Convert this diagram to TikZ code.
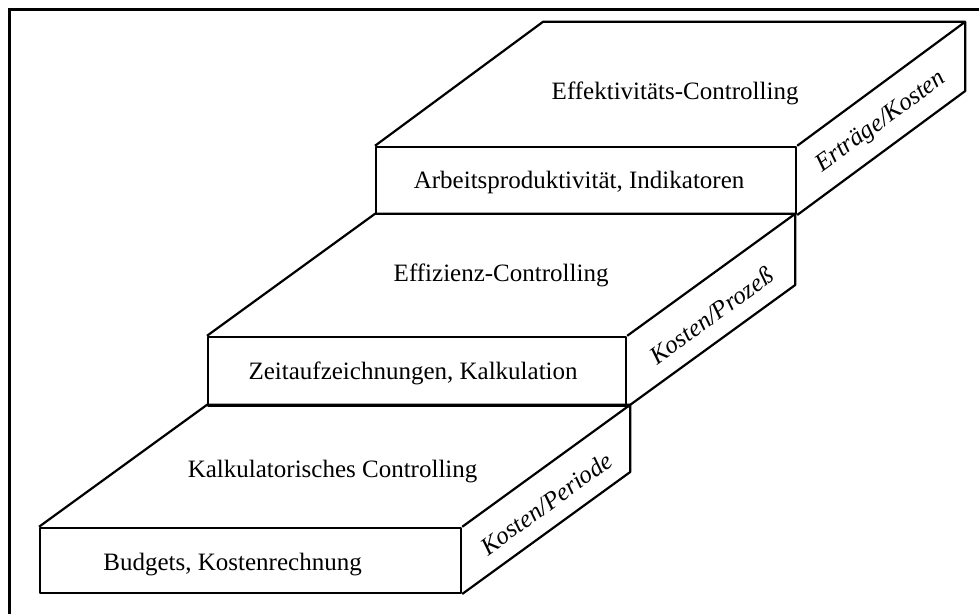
\documentclass[tikz,border=0pt]{standalone}
\usepackage{fontspec}
\setmainfont{Liberation Serif}
\usetikzlibrary{positioning,calc}

\begin{document}
\begin{tikzpicture}[
  x=1pt, y=1pt,
  font=\fontsize{25}{30}\selectfont,
  edge/.style={draw=black, line width=2.2pt, line join=round},
  front/.style={edge, anchor=south west, inner sep=0pt},
  toplbl/.style={inner sep=1pt},
  frontlbl/.style={inner sep=1pt},
  sidelbl/.style={font=\fontsize{25}{30}\selectfont\itshape, rotate=36, inner sep=1pt},
  frame/.style={draw=black, line width=3pt}
]
\useasboundingbox (0,0) rectangle (979,613);

% ============ FRAME ============
\draw[frame] (9,-5) -- (9,603) -- (990,603);

% ============ BOTTOM STEP: KALKULATORISCH ============
\node[front, minimum width=421pt, minimum height=65pt] (kalk) at (39,19) {};
\draw[edge] (kalk.north west) -- ++(168,122) -- ($(kalk.north east)+(168,122)$) -- (kalk.north east);
\draw[edge] (kalk.north east) ++(168,122) -- ($(kalk.south east)+(168,122)$) -- (kalk.south east);
\node[frontlbl] (kalkFront) at ($(kalk.center)+(-18,-4)$) {Budgets, Kostenrechnung};
\node[toplbl]   (kalkTop)   at ($(kalk.north)+(82,55)$) {Kalkulatorisches Controlling};
\node[sidelbl]  (kalkSide)  at ($(kalk.east)+(84,57)$) {Kosten/Periode};

% ============ MIDDLE STEP: EFFIZIENZ ============
\node[front, minimum width=418pt, minimum height=69pt] (effiz) at (207,206) {};
\draw[edge] (effiz.north west) -- ++(168,122) -- ($(effiz.north east)+(168,122)$) -- (effiz.north east);
\draw[edge] (effiz.north east) ++(168,122) -- ($(effiz.south east)+(168,122)$) -- (effiz.south east);
\node[frontlbl] (effizFront) at ($(effiz.center)+(-4,-2)$) {Zeitaufzeichnungen, Kalkulation};
\node[toplbl]   (effizTop)   at ($(effiz.north)+(84,60)$) {Effizienz-Controlling};
\node[sidelbl]  (effizSide)  at ($(effiz.east)+(84,56)$) {Kosten/Prozeß};

% ============ TOP STEP: EFFEKTIVITAET ============
\node[front, minimum width=420pt, minimum height=67pt] (effekt) at (375,398) {};
\draw[edge] (effekt.north west) -- ++(168,124) -- ($(effekt.north east)+(168,124)$) -- (effekt.north east);
\draw[edge] (effekt.north east) ++(168,124) -- ($(effekt.south east)+(168,124)$) -- (effekt.south east);
\node[frontlbl] (effektFront) at ($(effekt.center)+(-7,-2)$) {Arbeitsproduktivität, Indikatoren};
\node[toplbl]   (effektTop)   at ($(effekt.north)+(89,52)$) {Effektivitäts-Controlling};
\node[sidelbl]  (effektSide)  at ($(effekt.east)+(84,58)$) {Erträge/Kosten};

\end{tikzpicture}
\end{document}
